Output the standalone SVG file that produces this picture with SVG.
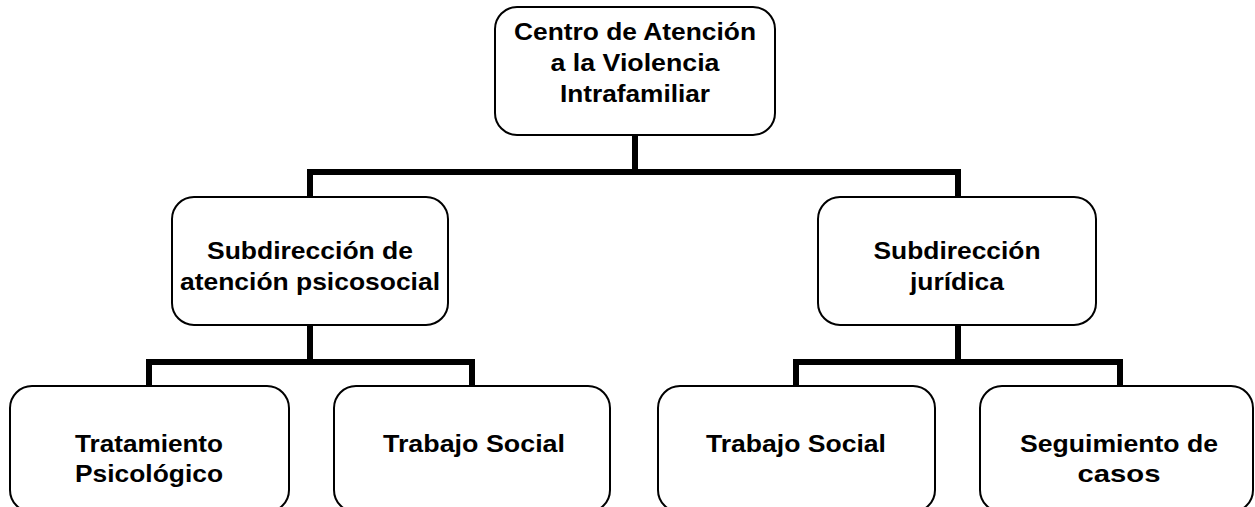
<svg xmlns="http://www.w3.org/2000/svg" width="1255" height="507" viewBox="0 0 1255 507">
<style>
.box{fill:#fff;stroke:#000;stroke-width:2}
.lbl{font-family:"Liberation Sans",Arial,sans-serif;font-weight:bold;font-size:24px;fill:#000;text-anchor:middle}
.conn{fill:none;stroke:#000;stroke-width:6;stroke-linejoin:miter}
</style>
<rect width="1255" height="507" fill="#fff"/>
<g id="connectors">
<path class="conn" d="M635,135 V172"/>
<path class="conn" d="M310,197 V172 H958 V197"/>
<path class="conn" d="M310,325 V362"/>
<path class="conn" d="M149,386 V362 H472 V386"/>
<path class="conn" d="M958,325 V362"/>
<path class="conn" d="M796,386 V362 H1120 V386"/>
</g>
<g id="n-centro">
<rect class="box" x="495" y="7" width="280" height="128" rx="22"/>
<text class="lbl" x="635" y="40" textLength="242" lengthAdjust="spacingAndGlyphs">Centro de Atención</text>
<text class="lbl" x="635" y="71" textLength="169" lengthAdjust="spacingAndGlyphs">a la Violencia</text>
<text class="lbl" x="635" y="102" textLength="150" lengthAdjust="spacingAndGlyphs">Intrafamiliar</text>
</g>
<g id="n-psicosocial">
<rect class="box" x="172" y="197" width="276" height="128" rx="22"/>
<text class="lbl" x="310" y="259" textLength="206" lengthAdjust="spacingAndGlyphs">Subdirección de</text>
<text class="lbl" x="310" y="290" textLength="260" lengthAdjust="spacingAndGlyphs">atención psicosocial</text>
</g>
<g id="n-juridica">
<rect class="box" x="818" y="197" width="278" height="128" rx="22"/>
<text class="lbl" x="957" y="259" textLength="167" lengthAdjust="spacingAndGlyphs">Subdirección</text>
<text class="lbl" x="957" y="290" textLength="94" lengthAdjust="spacingAndGlyphs">jurídica</text>
</g>
<g id="n-tratamiento">
<rect class="box" x="10" y="386" width="279" height="126" rx="22"/>
<text class="lbl" x="149" y="452" textLength="148" lengthAdjust="spacingAndGlyphs">Tratamiento</text>
<text class="lbl" x="149" y="482" textLength="148" lengthAdjust="spacingAndGlyphs">Psicológico</text>
</g>
<g id="n-trabajo1">
<rect class="box" x="334" y="386" width="276" height="126" rx="22"/>
<text class="lbl" x="474" y="452" textLength="182" lengthAdjust="spacingAndGlyphs">Trabajo Social</text>
</g>
<g id="n-trabajo2">
<rect class="box" x="658" y="386" width="277" height="126" rx="22"/>
<text class="lbl" x="796" y="452" textLength="180" lengthAdjust="spacingAndGlyphs">Trabajo Social</text>
</g>
<g id="n-seguimiento">
<rect class="box" x="980" y="386" width="273" height="126" rx="22"/>
<text class="lbl" x="1119" y="452" textLength="198" lengthAdjust="spacingAndGlyphs">Seguimiento de</text>
<text class="lbl" x="1119" y="482" textLength="83" lengthAdjust="spacingAndGlyphs">casos</text>
</g>
</svg>
